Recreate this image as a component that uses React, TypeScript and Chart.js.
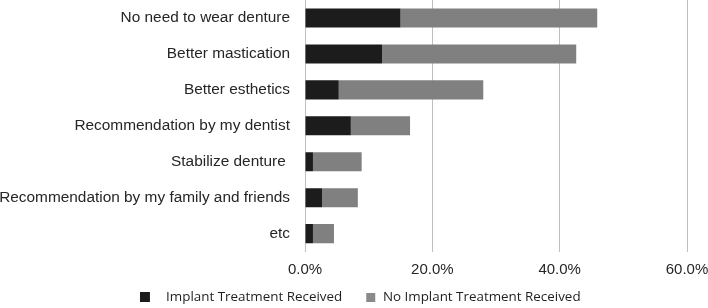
import React, { useEffect, useRef } from "react";
import { Chart, registerables } from "chart.js";

Chart.register(...registerables);

const categories = [
  "No need to wear denture",
  "Better mastication",
  "Better esthetics",
  "Recommendation by my dentist",
  "Stabilize denture ",
  "Recommendation by my family and friends",
  "etc",
];
const implantReceived = [15.0, 12.1, 5.3, 7.2, 1.25, 2.7, 1.25];
const noImplantReceived = [30.9, 30.5, 22.7, 9.3, 7.65, 5.6, 3.3];
const seriesNames = ["Implant Treatment Received", "No Implant Treatment Received"];
const xTicks = [0, 20, 40, 60];

const BLACK = "#1c1c1c";
const GRAY = "#808080";

function makeBox(color: string, canvasW: number, boxX: number, boxSize: number) {
  const c = document.createElement("canvas");
  c.width = canvasW;
  c.height = boxSize;
  const ctx = c.getContext("2d")!;
  ctx.fillStyle = color;
  ctx.fillRect(boxX, 0, boxSize, boxSize);
  return c;
}

const legendShift = {
  id: "legendShift",
  afterLayout(chart: any) {
    if (chart.legend) {
      chart.legend.left += 3;
      chart.legend.right += 3;
    }
  },
};

export default function App() {
  const ref = useRef<HTMLCanvasElement | null>(null);
  useEffect(() => {
    if (!ref.current) return;
    const boxes = [makeBox(BLACK, 13, 0, 10), makeBox("#8a8a8a", 26, 16, 9)];
    const chart = new Chart(ref.current, {
      type: "bar",
      data: {
        labels: categories,
        datasets: [
          {
            label: seriesNames[0],
            data: implantReceived,
            backgroundColor: BLACK,
            categoryPercentage: 1,
            barPercentage: 0.53,
          },
          {
            label: seriesNames[1],
            data: noImplantReceived,
            backgroundColor: GRAY,
            categoryPercentage: 1,
            barPercentage: 0.53,
          },
        ],
      },
      plugins: [legendShift],
      options: {
        indexAxis: "y",
        animation: false,
        responsive: false,
        layout: { padding: { top: 0, right: 0, bottom: -6, left: 0 } },
        scales: {
          x: {
            stacked: true,
            min: 0,
            max: 60,
            afterBuildTicks: (scale: any) => {
              scale.ticks = xTicks.map((v) => ({ value: v }));
            },
            afterFit: (scale: any) => {
              scale.paddingLeft = 0;
              scale.paddingRight = 21;
              scale.height = 31;
            },
            ticks: {
              callback: (v: any) => Number(v).toFixed(1) + "%",
              font: { family: "Liberation Sans, Arial", size: 15 },
              color: "#262626",
              padding: 9,
              maxRotation: 0,
            },
            grid: { color: "#bfbfbf", lineWidth: 1, drawTicks: false },
            border: { display: false },
          },
          y: {
            stacked: true,
            afterFit: (scale: any) => {
              scale.width = 305;
              scale.paddingTop = 0;
              scale.paddingBottom = 0;
            },
            ticks: {
              font: { family: "Liberation Sans, Arial", size: 15.4 },
              color: "#262626",
              padding: 15,
            },
            grid: { display: false, drawTicks: false },
            border: { display: false },
          },
        },
        plugins: {
          tooltip: { enabled: false },
          legend: {
            position: "bottom",
            labels: {
              usePointStyle: true,
              pointStyleWidth: 26,
              boxHeight: 10,
              padding: 8,
              color: "#1f1f1f",
              font: { family: "Open Sans", size: 13.4 },
              generateLabels: (ch: any) =>
                (Chart as any).defaults.plugins.legend.labels
                  .generateLabels(ch)
                  .map((l: any, i: number) => ({ ...l, pointStyle: boxes[i] })),
            },
          },
        },
      },
    });
    return () => chart.destroy();
  }, []);
  return (
    <div style={{ position: "fixed", left: 0, top: 0, width: 708, height: 308, background: "#fff", overflow: "hidden" }}>
      <canvas ref={ref} width={708} height={308} style={{ width: 708, height: 308 }} />
    </div>
  );
}
